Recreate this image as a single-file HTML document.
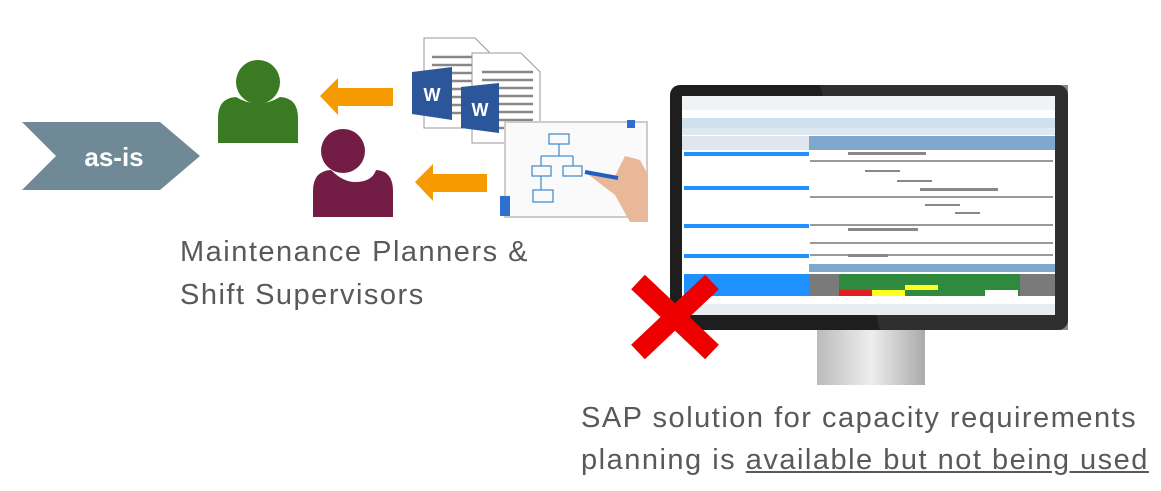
<!DOCTYPE html>
<html><head><meta charset="utf-8"><style>
body{margin:0;background:#fff;width:1161px;height:491px;overflow:hidden;font-family:"Liberation Sans",sans-serif}
svg{position:absolute;left:0;top:0}
.t{position:absolute;color:#595959;white-space:nowrap;font-size:29px;line-height:36px;letter-spacing:1.5px}
</style></head><body>
<svg width="1161" height="491" viewBox="0 0 1161 491">
<defs>
<linearGradient id="neck" x1="0" x2="1"><stop offset="0" stop-color="#bbb"/><stop offset=".5" stop-color="#eee"/><stop offset="1" stop-color="#aaa"/></linearGradient>
</defs>
<polygon points="22,122 160,122 200,156 160,190 22,190 56,156" fill="#6f8a96"/>
<text x="114" y="166" font-family="Liberation Sans" font-size="26" font-weight="bold" fill="#fff" text-anchor="middle">as-is</text>
<circle cx="258" cy="82" r="22" fill="#3a7a22"/>
<path d="M218,143 L218,118 Q218,98 236,97 Q258,110 280,97 Q298,98 298,118 L298,143 Z" fill="#3a7a22"/>
<circle cx="343" cy="151" r="22" fill="#731c46"/>
<path d="M313,217 L313,191 Q313,171 331,170 Q343,182 355,182 Q372,182 376,170 Q393,171 393,191 L393,217 Z" fill="#731c46"/>
<polygon points="320,96 338,78 338,88 393,88 393,106 338,106 338,115" fill="#f59a00"/>
<polygon points="415,182 433,164 433,174 487,174 487,192 433,192 433,201" fill="#f59a00"/>
<g>
<path d="M424,38 L475,38 L489,52 L489,128 L424,128 Z" fill="#fff" stroke="#999"/>
<g stroke="#888" stroke-width="2.5"><line x1="432" y1="57" x2="482" y2="57"/><line x1="432" y1="65" x2="482" y2="65"/><line x1="432" y1="73" x2="482" y2="73"/><line x1="432" y1="81" x2="482" y2="81"/><line x1="432" y1="89" x2="482" y2="89"/><line x1="432" y1="97" x2="482" y2="97"/><line x1="432" y1="105" x2="482" y2="105"/><line x1="432" y1="113" x2="482" y2="113"/></g>
<polygon points="412,72 452,67 452,120 412,114" fill="#2b579a"/>
<text x="432" y="101" font-size="18" font-weight="bold" fill="#fff" text-anchor="middle">W</text>
<path d="M472,53 L521,53 L540,72 L540,143 L472,143 Z" fill="#fff" stroke="#999"/>
<g stroke="#888" stroke-width="2.5"><line x1="482" y1="72" x2="533" y2="72"/><line x1="482" y1="80" x2="533" y2="80"/><line x1="482" y1="88" x2="533" y2="88"/><line x1="482" y1="96" x2="533" y2="96"/><line x1="482" y1="104" x2="533" y2="104"/><line x1="482" y1="112" x2="533" y2="112"/><line x1="482" y1="120" x2="533" y2="120"/><line x1="482" y1="128" x2="533" y2="128"/></g>
<polygon points="461,87 499,83 499,133 461,128" fill="#2b579a"/>
<text x="480" y="116" font-size="18" font-weight="bold" fill="#fff" text-anchor="middle">W</text>
</g>
<rect x="505" y="122" width="142" height="95" fill="#fafafa" stroke="#ccc" stroke-width="2"/>
<rect x="500" y="196" width="10" height="20" fill="#2e6fd0"/>
<rect x="627" y="120" width="8" height="8" fill="#2e6fd0"/>
<g fill="none" stroke="#4a90d0" stroke-width="1.3">
<rect x="549" y="134" width="20" height="10"/><line x1="559" y1="144" x2="559" y2="156"/><line x1="541" y1="156" x2="573" y2="156"/>
<rect x="532" y="166" width="19" height="10"/><rect x="563" y="166" width="19" height="10"/><line x1="541" y1="156" x2="541" y2="166"/><line x1="573" y1="156" x2="573" y2="166"/><line x1="541" y1="176" x2="541" y2="190"/><rect x="533" y="190" width="20" height="12"/>
</g>
<path d="M585,172 L615,176 L625,156 L640,160 L648,175 L648,222 L630,222 L615,195 Z" fill="#e8b898"/>
<line x1="585" y1="172" x2="618" y2="178" stroke="#1f5fc0" stroke-width="4"/>
<rect x="817" y="330" width="108" height="55" fill="url(#neck)"/>
<rect x="670" y="85" width="398" height="245" rx="10" fill="#1e1e1e"/>
<polygon points="820,85 1068,85 1068,330 880,330" fill="#3a3a3a" opacity=".6"/>
<rect x="682" y="96" width="373" height="218" fill="#fff"/>
<rect x="682" y="96" width="373" height="14" fill="#f0f3f6"/>
<rect x="682" y="118" width="373" height="10" fill="#cfe0ee"/>
<rect x="682" y="128" width="373" height="7" fill="#dde8f0"/>
<rect x="682" y="136" width="127" height="14" fill="#dfe6ee"/>
<rect x="809" y="136" width="246" height="14" fill="#7fa8cc"/>
<g fill="#1e90ff">
<rect x="684" y="152" width="125" height="4"/><rect x="684" y="186" width="125" height="4"/><rect x="684" y="224" width="125" height="4"/><rect x="684" y="254" width="125" height="4"/>
<rect x="684" y="274" width="125" height="22"/>
</g>
<rect x="809" y="264" width="246" height="8" fill="#7fa8cc"/>
<g>
<rect x="809" y="274" width="246" height="22" fill="#2f8a3e"/>
<rect x="809" y="274" width="30" height="22" fill="#7a7a7a"/><rect x="1020" y="274" width="35" height="22" fill="#7a7a7a"/>
<rect x="839" y="290" width="33" height="6" fill="#e02020"/><rect x="872" y="290" width="33" height="6" fill="#ffff20"/><rect x="905" y="285" width="33" height="5" fill="#ffff20"/><rect x="985" y="290" width="33" height="6" fill="#fff"/>
</g>
<g stroke="#333" stroke-width="1"><line x1="810" y1="161" x2="1053" y2="161"/><line x1="810" y1="197" x2="1053" y2="197"/><line x1="810" y1="225" x2="1053" y2="225"/><line x1="810" y1="243" x2="1053" y2="243"/><line x1="810" y1="255" x2="1053" y2="255"/></g>
<g fill="#888"><rect x="848" y="152" width="78" height="3"/><rect x="920" y="188" width="78" height="3"/><rect x="848" y="228" width="70" height="3"/><rect x="848" y="254" width="40" height="3"/><rect x="865" y="170" width="35" height="2"/><rect x="897" y="180" width="35" height="2"/><rect x="925" y="204" width="35" height="2"/><rect x="955" y="212" width="25" height="2"/></g>
<rect x="682" y="304" width="373" height="11" fill="#e8edf2"/>
<g stroke="#ee0000" stroke-width="20"><line x1="638" y1="282" x2="712" y2="352"/><line x1="712" y1="282" x2="638" y2="352"/></g>
</svg>
<div class="t" style="left:180px;top:234px">Maintenance Planners &amp;</div>
<div class="t" style="left:180px;top:277px">Shift Supervisors</div>
<div class="t" style="left:581px;top:400px">SAP solution for capacity requirements</div>
<div class="t" style="left:581px;top:442px">planning is <u>available but not being used</u></div>
</body></html>
